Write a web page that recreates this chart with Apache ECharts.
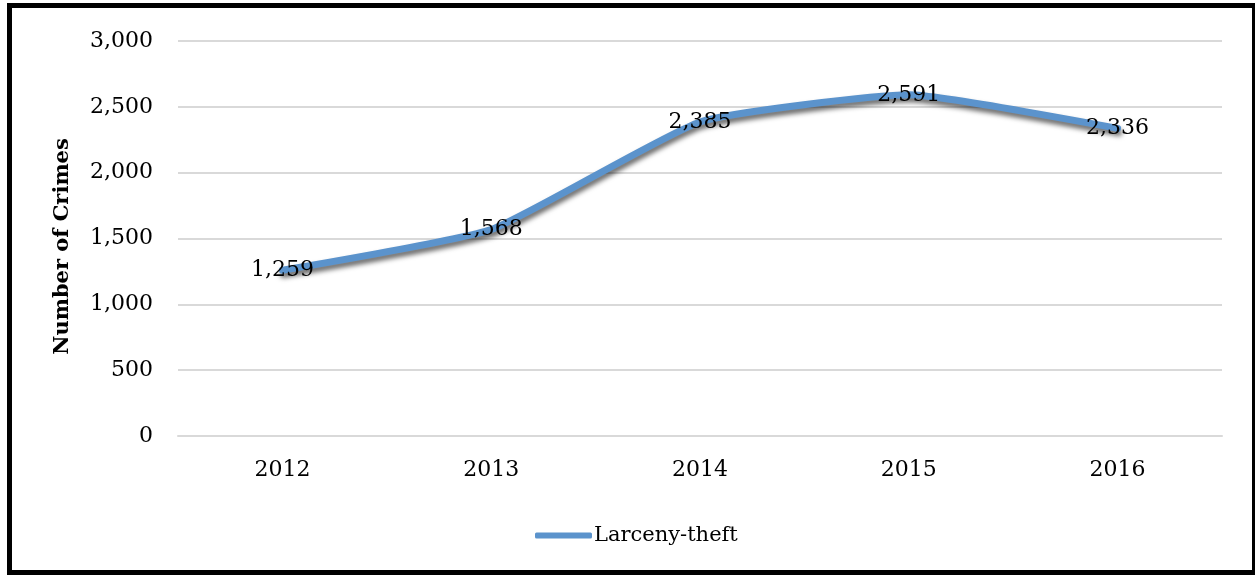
<!DOCTYPE html>
<html>
<head>
<meta charset="utf-8">
<script src="https://cdn.jsdelivr.net/npm/echarts@6/dist/echarts.min.js"></script>
<style>
  html, body { margin: 0; padding: 0; background: #fff; overflow: hidden; }
  #frame {
    position: absolute; left: 7px; top: 3px;
    width: 1240px; height: 562px;
    border: 5px solid #000;
    box-sizing: content-box;
  }
  #chart { position: absolute; left: 0; top: 0; width: 1255px; height: 575px; }
</style>
</head>
<body>
<div id="frame"></div>
<div id="chart"></div>
<script>
// Larceny-theft offences reported per year
const years = ['2012', '2013', '2014', '2015', '2016'];
const larcenyTheft = [1259, 1568, 2385, 2591, 2336];
const yTicks = { min: 0, max: 3000, interval: 500 };

const FONT = 'DejaVu Serif';
const fmt = v => Number(v).toLocaleString('en-US');

const chart = echarts.init(document.getElementById('chart'), null, { renderer: 'canvas' });
chart.setOption({
  animation: false,
  color: ['#5b93cc'],
  grid: { left: 178, right: 33, top: 41, bottom: 139, containLabel: false },
  legend: {
    data: ['Larceny-theft'],
    left: 530, top: 520,
    itemWidth: 57, itemHeight: 6, itemGap: 10,
    icon: 'roundRect',
    textStyle: { fontFamily: FONT, fontSize: 21, color: '#000', padding: [0, 0, 0, -3] }
  },
  xAxis: {
    type: 'category',
    data: years,
    boundaryGap: true,
    axisLine: { show: true, lineStyle: { color: '#d9d9d9', width: 2 } },
    axisTick: { show: false },
    axisLabel: { fontFamily: FONT, fontSize: 22, color: '#000', margin: 23 }
  },
  yAxis: {
    type: 'value',
    min: yTicks.min, max: yTicks.max, interval: yTicks.interval,
    name: 'Number of Crimes',
    nameLocation: 'middle',
    nameGap: 105,
    nameRotate: 90,
    nameTextStyle: {
      fontFamily: FONT, fontSize: 21, fontWeight: 'bold', color: '#000',
      padding: [0, 16, 0, 0]
    },
    axisLine: { show: false },
    axisTick: { show: false },
    splitLine: { lineStyle: { color: '#d9d9d9', width: 2 } },
    axisLabel: { fontFamily: FONT, fontSize: 22, color: '#000', margin: 25, formatter: fmt }
  },
  series: [{
    name: 'Larceny-theft',
    type: 'line',
    data: larcenyTheft,
    smooth: 0.15,
    showSymbol: true,
    symbol: 'circle',
    symbolSize: 0,
    lineStyle: {
      width: 7, color: '#5b93cc', cap: 'round',
      shadowColor: 'rgba(0,0,0,0.6)', shadowBlur: 5, shadowOffsetX: 1, shadowOffsetY: 4
    },
    label: {
      show: true, position: 'inside',
      fontFamily: FONT, fontSize: 22, color: '#000',
      formatter: p => fmt(p.value)
    },
    z: 3
  }]
});
</script>
</body>
</html>
